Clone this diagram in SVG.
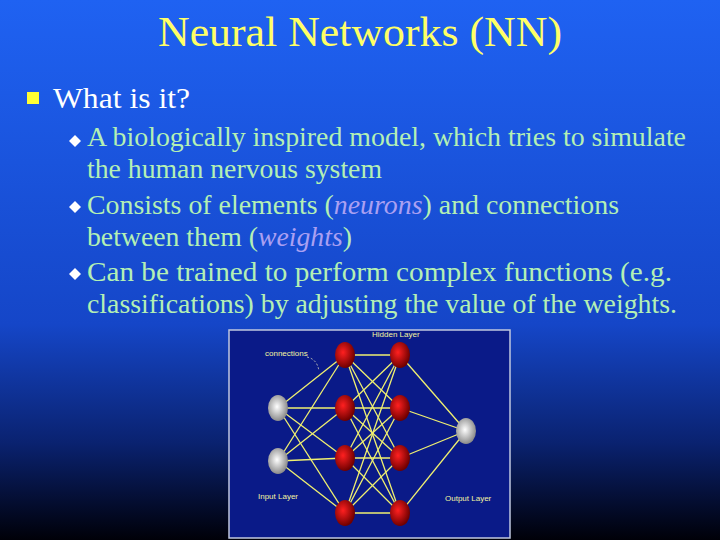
<svg xmlns="http://www.w3.org/2000/svg" width="720" height="540" viewBox="0 0 720 540">
<defs>
<linearGradient id="bg" x1="0" y1="0" x2="0" y2="1">
<stop offset="0" stop-color="#1f62f2"/><stop offset="0.6" stop-color="#1546c8"/><stop offset="0.82" stop-color="#0a2270"/><stop offset="1" stop-color="#000008"/>
</linearGradient>
<radialGradient id="red" cx="0.4" cy="0.4" r="0.6"><stop offset="0" stop-color="#ff2020"/><stop offset="1" stop-color="#700000"/></radialGradient>
<radialGradient id="grey" cx="0.45" cy="0.45" r="0.6"><stop offset="0" stop-color="#ffffff"/><stop offset="1" stop-color="#808080"/></radialGradient>
<style>
.t{font-family:"Liberation Serif",serif}
.b{fill:#b4f0b4;font-size:27px}
.i{fill:#aaa0f2;font-style:italic}
.c line{stroke:#f0f070;stroke-width:1.3}
.lb{font-family:"Liberation Sans",sans-serif;font-size:8px;fill:#f4f4a0}
</style>
</defs>
<rect width="720" height="540" fill="url(#bg)"/>
<text class="t" x="360" y="46" text-anchor="middle" font-size="42" fill="#ffff66" textLength="404" lengthAdjust="spacingAndGlyphs">Neural Networks (NN)</text>
<rect x="27" y="92" width="12" height="12" fill="#ffff33"/>
<text class="t" x="53" y="108" font-size="30" fill="#ffffff" textLength="137" lengthAdjust="spacingAndGlyphs">What is it?</text>
<g class="t b">
<path d="M75 135l6 6-6 6-6-6z" fill="#fff"/>
<text x="87" y="146" textLength="599" lengthAdjust="spacingAndGlyphs">A biologically inspired model, which tries to simulate</text>
<text x="87" y="178" textLength="295" lengthAdjust="spacingAndGlyphs">the human nervous system</text>
<path d="M75 201l6 6-6 6-6-6z" fill="#fff"/>
<text x="87" y="214" textLength="532" lengthAdjust="spacingAndGlyphs">Consists of elements (<tspan class="i">neurons</tspan>) and connections</text>
<text x="87" y="246" textLength="265" lengthAdjust="spacingAndGlyphs">between them (<tspan class="i">weights</tspan>)</text>
<path d="M75 268l6 6-6 6-6-6z" fill="#fff"/>
<text x="87" y="281" textLength="585" lengthAdjust="spacingAndGlyphs">Can be trained to perform complex functions (e.g.</text>
<text x="87" y="313" textLength="590" lengthAdjust="spacingAndGlyphs">classifications) by adjusting the value of the weights.</text>
</g>
<g id="network">
<rect x="229" y="330" width="281" height="208" fill="#0a1a88" stroke="#c0c8e0" stroke-width="1.5"/>
<g class="c" id="connectors">
<line x1="278" y1="408" x2="345" y2="355"/><line x1="278" y1="408" x2="345" y2="408"/><line x1="278" y1="408" x2="345" y2="458"/><line x1="278" y1="408" x2="345" y2="513"/>
<line x1="278" y1="461" x2="345" y2="355"/><line x1="278" y1="461" x2="345" y2="408"/><line x1="278" y1="461" x2="345" y2="458"/><line x1="278" y1="461" x2="345" y2="513"/>
<line x1="345" y1="355" x2="400" y2="355"/><line x1="345" y1="355" x2="400" y2="408"/><line x1="345" y1="355" x2="400" y2="458"/><line x1="345" y1="355" x2="400" y2="513"/>
<line x1="345" y1="408" x2="400" y2="355"/><line x1="345" y1="408" x2="400" y2="408"/><line x1="345" y1="408" x2="400" y2="458"/><line x1="345" y1="408" x2="400" y2="513"/>
<line x1="345" y1="458" x2="400" y2="355"/><line x1="345" y1="458" x2="400" y2="408"/><line x1="345" y1="458" x2="400" y2="458"/><line x1="345" y1="458" x2="400" y2="513"/>
<line x1="345" y1="513" x2="400" y2="355"/><line x1="345" y1="513" x2="400" y2="408"/><line x1="345" y1="513" x2="400" y2="458"/><line x1="345" y1="513" x2="400" y2="513"/>
<line x1="400" y1="355" x2="466" y2="431"/><line x1="400" y1="408" x2="466" y2="431"/><line x1="400" y1="458" x2="466" y2="431"/><line x1="400" y1="513" x2="466" y2="431"/>
</g>
<path d="M307 357q10 2 12 14" fill="none" stroke="#e0e0c0" stroke-width="0.8" stroke-dasharray="2 2"/>
<g id="inputs" fill="url(#grey)"><ellipse cx="278" cy="408" rx="10" ry="13"/><ellipse cx="278" cy="461" rx="10" ry="13"/></g>
<g id="hidden1" fill="url(#red)"><ellipse cx="345" cy="355" rx="10" ry="13"/><ellipse cx="345" cy="408" rx="10" ry="13"/><ellipse cx="345" cy="458" rx="10" ry="13"/><ellipse cx="345" cy="513" rx="10" ry="13"/></g>
<g id="hidden2" fill="url(#red)"><ellipse cx="400" cy="355" rx="10" ry="13"/><ellipse cx="400" cy="408" rx="10" ry="13"/><ellipse cx="400" cy="458" rx="10" ry="13"/><ellipse cx="400" cy="513" rx="10" ry="13"/></g>
<g id="output"><ellipse cx="466" cy="431" rx="10" ry="13" fill="url(#grey)"/></g>
<text class="lb" x="372" y="337">Hidden Layer</text>
<text class="lb" x="265" y="356">connections</text>
<text class="lb" x="258" y="499">Input Layer</text>
<text class="lb" x="445" y="501">Output Layer</text>
</g>
</svg>
